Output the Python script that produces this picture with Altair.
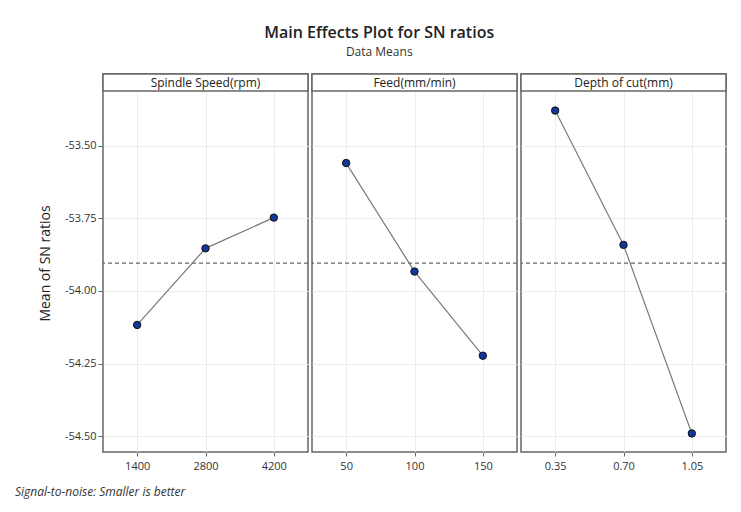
import altair as alt
import pandas as pd

# ---- data ----
factors = ["Spindle Speed(rpm)", "Feed(mm/min)", "Depth of cut(mm)"]
levels_speed = ["1400", "2800", "4200"]
levels_feed = ["50", "100", "150"]
levels_depth = ["0.35", "0.70", "1.05"]
sn_speed = [-54.117, -53.853, -53.747]
sn_feed = [-53.559, -53.933, -54.223]
sn_depth = [-53.378, -53.841, -54.491]
overall_mean = [-53.904]
y_ticks = [-53.50, -53.75, -54.00, -54.25, -54.50]
y_domain = [-54.555, -53.252]

title_text = "Main Effects Plot for SN ratios"
subtitle_text = "Data Means"
y_title = "Mean of SN ratios"
footnote = "Signal-to-noise: Smaller is better"

FONT = "Open Sans"
W, H, HEAD = 205, 378, 17
FRAME = "#666666"

levels_all = [levels_speed, levels_feed, levels_depth]
sn_all = [sn_speed, sn_feed, sn_depth]

panels = []
for i, (fac, lv, vals) in enumerate(zip(factors, levels_all, sn_all)):
    df = pd.DataFrame({"level": lv, "sn": vals})
    if i == 0:
        yaxis = alt.Axis(values=y_ticks, labelExpr="replace(format(datum.value, '.2f'), '\u2212', '-')",
                         title=y_title, grid=True,
                         gridColor="#ececec", domain=False, tickSize=5, tickColor="#666",
                         labelFontSize=11, labelColor="#333", labelFont=FONT,
                         titleFont=FONT, titleFontSize=14, titleFontWeight="normal",
                         titleColor="#222", titlePadding=12)
    else:
        yaxis = alt.Axis(values=y_ticks, labels=False, ticks=False, domain=False,
                         title=None, grid=True, gridColor="#ececec")
    x = alt.X("level:O", sort=lv, scale=alt.Scale(type="point", padding=0.5),
              axis=alt.Axis(title=None, labelAngle=0, grid=True, gridColor="#ececec",
                            domain=False, tickSize=4, tickColor="#666",
                            labelFontSize=11, labelColor="#333", labelFont=FONT,
                            labelPadding=4))
    y = alt.Y("sn:Q", scale=alt.Scale(domain=y_domain, nice=False, zero=False), axis=yaxis)
    base = alt.Chart(df).encode(x=x, y=y)
    line = base.mark_line(color="#7a7a7a", strokeWidth=1.2)
    pts = base.mark_circle(size=55, fill="#12369c", stroke="#111111", strokeWidth=1, opacity=1)
    ref = alt.Chart(pd.DataFrame({"m": overall_mean})).mark_rule(
        strokeDash=[4, 3], color="#666", strokeWidth=1.2).encode(y=alt.Y("m:Q"))
    hdf = pd.DataFrame({"factor": [fac]})
    head_rect = alt.Chart(hdf).mark_rect(fill="white", stroke=FRAME, strokeWidth=1.5).encode(
        x=alt.value(0), x2=alt.value(W), y=alt.value(0), y2=alt.value(HEAD))
    head_text = alt.Chart(hdf).mark_text(fontSize=12, font=FONT, color="#222").encode(
        text="factor:N", x=alt.value(W / 2), y=alt.value(HEAD / 2 + 0.5))
    panel = alt.layer(ref, line, pts, head_rect, head_text).properties(
        width=W, height=H, view=alt.ViewBackground(stroke=FRAME, strokeWidth=1.5))
    panels.append(panel)

grid = alt.hconcat(*panels, spacing=0)

foot = alt.Chart(pd.DataFrame({"t": [footnote]})).mark_text(
    align="left", fontStyle="italic", fontSize=12, font=FONT, color="#333").encode(
    text="t:N", x=alt.value(-88), y=alt.value(8)).properties(
    width=600, height=16, view=alt.ViewBackground(strokeOpacity=0))

chart = alt.vconcat(grid, foot, spacing=12).properties(
    title=alt.TitleParams(title_text, subtitle=subtitle_text, fontSize=16, fontWeight=600,
                          font=FONT, subtitleFont=FONT, subtitleFontSize=12,
                          subtitleColor="#333", color="#222", anchor="middle",
                          offset=15, subtitlePadding=6, dx=8),
    padding={"left": 7, "top": 16, "right": 5, "bottom": 5},
    background="white",
)

chart.save("out.html", embed_options={"renderer": "svg", "actions": False})
